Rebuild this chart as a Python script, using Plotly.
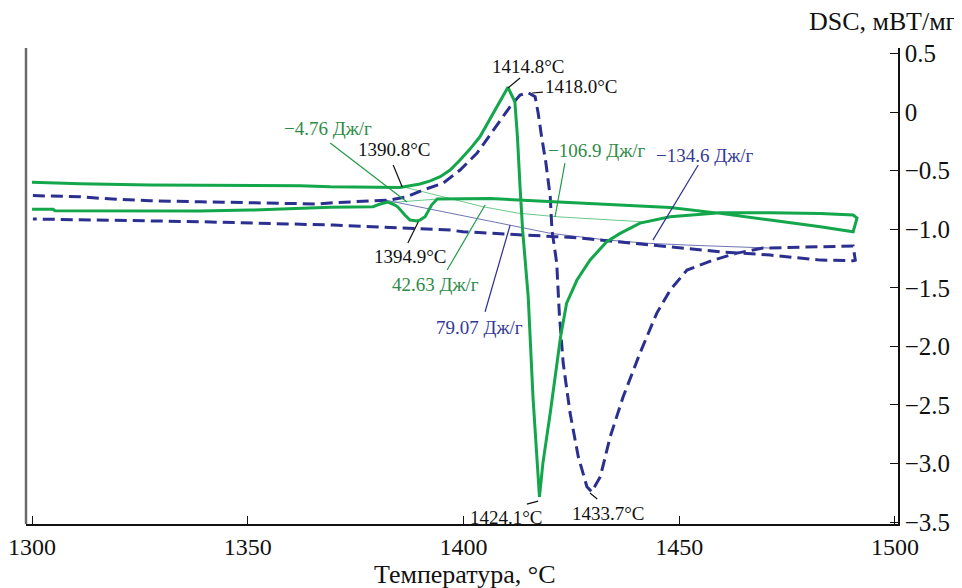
import plotly.graph_objects as go

# ---------------- data (temperature °C, DSC mW/mg) ----------------
green_T = [1300.0, 1311.1, 1327.3, 1338.9, 1362.1, 1369.1, 1385.3, 1389.9, 1392.3, 1394.6,
           1396.9, 1399.2, 1401.5, 1403.8, 1406.9, 1409.2, 1410.3, 1411.9, 1412.5, 1413.1,
           1413.7, 1415.0, 1416.1, 1417.6, 1418.4, 1420.1, 1421.6, 1422.5, 1423.9, 1426.3,
           1429.3, 1433.2, 1436.3, 1440.9, 1447.9, 1459.5, 1471.1, 1482.7, 1490.3, 1491.2,
           1490.3, 1482.7, 1471.1, 1459.5, 1447.9, 1440.9, 1427.0, 1417.7, 1406.2, 1393.9,
           1392.6, 1391.1, 1389.9, 1389.2, 1387.6, 1386.4, 1385.7, 1384.8, 1384.1, 1382.5,
           1380.7, 1379.0, 1369.1, 1350.5, 1338.9, 1305.3, 1304.9, 1300.0]
green_DSC = [-0.600, -0.612, -0.623, -0.625, -0.630, -0.638, -0.643, -0.614, -0.588, -0.552,
             -0.495, -0.409, -0.316, -0.211, -0.008, 0.146, 0.211, 0.088, -0.211, -0.638,
             -1.007, -1.579, -2.433, -3.285, -2.997, -2.570, -2.143, -1.918, -1.631, -1.434,
             -1.264, -1.107, -1.036, -0.948, -0.894, -0.860, -0.860, -0.865, -0.879, -0.905,
             -1.022, -0.979, -0.922, -0.865, -0.815, -0.802, -0.777, -0.757, -0.738, -0.743,
             -0.794, -0.894, -0.922, -0.930, -0.922, -0.879, -0.851, -0.811, -0.794, -0.768,
             -0.785, -0.808, -0.813, -0.837, -0.845, -0.842, -0.830, -0.830]

blue_T = [1300.2, 1311.1, 1315.8, 1319.7, 1327.3, 1338.9, 1362.1, 1366.1, 1369.8, 1377.6,
          1383.0, 1386.9, 1390.6, 1395.3, 1399.2, 1403.1, 1406.9, 1410.8, 1413.1, 1415.0,
          1416.6, 1417.3, 1418.1, 1419.1, 1420.1, 1420.5, 1421.6, 1422.2, 1423.1, 1424.7,
          1426.6, 1428.6, 1429.7, 1431.7, 1434.0, 1437.0, 1440.9, 1444.8, 1447.9, 1451.8,
          1457.9, 1463.4, 1469.4, 1481.0, 1490.3, 1490.8,
          1490.3, 1482.7, 1471.1, 1459.5, 1447.9, 1438.6, 1427.0, 1423.1, 1415.4, 1399.9,
          1396.9, 1384.6, 1369.8, 1338.9, 1315.8, 1300.2]
blue_DSC = [-0.713, -0.723, -0.737, -0.745, -0.757, -0.766, -0.779, -0.785, -0.774, -0.757,
            -0.751, -0.723, -0.666, -0.606, -0.495, -0.352, -0.153, 0.046, 0.146, 0.165,
            0.131, -0.008, -0.211, -0.435, -0.723, -1.007, -1.289, -1.716, -2.143, -2.570,
            -2.943, -3.199, -3.242, -3.114, -2.772, -2.431, -2.058, -1.716, -1.520, -1.349,
            -1.264, -1.204, -1.161, -1.148, -1.144, -1.264,
            -1.269, -1.264, -1.221, -1.193, -1.150, -1.121, -1.076, -1.067, -1.050, -1.022,
            -1.007, -0.990, -0.965, -0.936, -0.922, -0.913]

# integration baselines
green_base_T = [1385.3, 1394.6, 1404.5, 1412.4, 1421.7, 1427.7, 1436.3, 1442.6]
green_base_DSC = [-0.632, -0.717, -0.808, -0.862, -0.894, -0.907, -0.922, -0.939]
green_dip_base_T = [1381.4, 1393.9]
green_dip_base_DSC = [-0.777, -0.743]
blue_base_T = [1381.8, 1406.2, 1410.8, 1420.1, 1433.3, 1443.2, 1454.8, 1471.1]
blue_base_DSC = [-0.751, -0.930, -0.965, -1.035, -1.093, -1.121, -1.140, -1.161]

# labels: text, label position (T, DSC), leader start, leader end, colour key
label_text = ["−4.76 Дж/г", "1390.8°C", "1394.9°C", "42.63 Дж/г", "79.07 Дж/г",
              "1414.8°C", "1418.0°C", "−106.9 Дж/г", "−134.6 Дж/г", "1424.1°C", "1433.7°C"]
label_T = [1368.6, 1383.9, 1387.6, 1393.4, 1403.8, 1415.0, 1427.3, 1431.0, 1456.0, 1409.9, 1433.5]
label_DSC = [-0.136, -0.316, -1.229, -1.468, -1.836, 0.393, 0.2225, -0.324, -0.367, -3.458, -3.424]
lead_T0 = [1369.1, 1383.7, 1387.1, 1396.2, 1405.0, 1413.1, 1418.4, 1423.5, 1454.4, 1414.7, 1429.3]
lead_D0 = [-0.264, -0.452, -1.118, -1.349, -1.705, 0.291, 0.171, -0.435, -0.452, -3.347, -3.253]
lead_T1 = [1386.9, 1385.8, 1389.5, 1405.0, 1410.8, 1410.3, 1415.9, 1421.2, 1443.9, 1417.3, 1431.0]
lead_D1 = [-0.768, -0.640, -0.939, -0.794, -0.965, 0.205, 0.163, -0.896, -1.093, -3.322, -3.304]
label_kind = ["g", "k", "k", "g", "b", "k", "k", "g", "b", "k", "k"]

x_ticks = [1300, 1350, 1400, 1450, 1500]
y_ticks = [0.5, 0, -0.5, -1.0, -1.5, -2.0, -2.5, -3.0, -3.5]
y_ticktext = ["0.5", "0", "−0.5", "−1.0", "−1.5", "−2.0", "−2.5", "−3.0", "−3.5"]

# ---------------- styling ----------------
GREEN = "#13a64b"
NAVY = "#2b2f8f"
text_col = {"g": "#2e8b47", "k": "#111111", "b": "#333a96"}
lead_col = {"g": "#1f9b48", "k": "#111111", "b": "#2b2f8f"}
FONT = "Liberation Serif"

fig = go.Figure()
fig.add_trace(go.Scatter(x=green_base_T, y=green_base_DSC, mode="lines",
                         line=dict(color="#6cc98a", width=1), hoverinfo="skip"))
fig.add_trace(go.Scatter(x=green_dip_base_T, y=green_dip_base_DSC, mode="lines",
                         line=dict(color="#6cc98a", width=1), hoverinfo="skip"))
fig.add_trace(go.Scatter(x=blue_base_T, y=blue_base_DSC, mode="lines",
                         line=dict(color="#7074b4", width=1), hoverinfo="skip"))
fig.add_trace(go.Scatter(x=blue_T, y=blue_DSC, mode="lines",
                         line=dict(color=NAVY, width=3, dash="12px,6px")))
fig.add_trace(go.Scatter(x=green_T, y=green_DSC, mode="lines",
                         line=dict(color=GREEN, width=3)))

for i, t in enumerate(label_text):
    k = label_kind[i]
    fig.add_shape(type="line", xref="x", yref="y",
                  x0=lead_T0[i], y0=lead_D0[i], x1=lead_T1[i], y1=lead_D1[i],
                  line=dict(color=lead_col[k], width=1.2))
    fig.add_annotation(x=label_T[i], y=label_DSC[i], xref="x", yref="y", text=t,
                       showarrow=False, xanchor="center", yanchor="middle",
                       font=dict(family=FONT, size=19, color=text_col[k]))

# left grey frame line
fig.add_shape(type="line", xref="paper", yref="paper", x0=0, x1=0, y0=0, y1=1,
              line=dict(color="#6b6b6b", width=2.5))

fig.add_annotation(xref="paper", yref="paper", x=1.069, y=1.055, xanchor="right",
                   yanchor="middle", showarrow=False, text="DSC, мВТ/мг",
                   font=dict(family=FONT, size=26, color="#111111"))
fig.add_annotation(xref="paper", yref="paper", x=0.503, y=-0.107, xanchor="center",
                   yanchor="middle", showarrow=False, text="Температура, °C",
                   font=dict(family=FONT, size=26, color="#111111"))

# page body has an 8px margin, so the figure is sized/offset to compensate
fig.update_layout(
    width=954, height=580,
    margin=dict(l=18, r=64, t=40, b=64, autoexpand=False),
    paper_bgcolor="white", plot_bgcolor="white",
    showlegend=False,
    font=dict(family=FONT, size=24, color="#111111"),
    xaxis=dict(range=[1298.6, 1500.7], tickvals=x_ticks, ticks="inside", ticklen=8,
               tickcolor="#111111", showline=True, linecolor="#111111", linewidth=1.5,
               showgrid=False, zeroline=False, automargin=False,
               tickfont=dict(family=FONT, size=24)),
    yaxis=dict(range=[-3.517, 0.547], side="right", tickvals=y_ticks, ticktext=y_ticktext,
               ticks="inside", ticklen=8, tickcolor="#111111", showline=True,
               linecolor="#111111", linewidth=1.5, showgrid=False, zeroline=False,
               automargin=False, tickfont=dict(family=FONT, size=25)),
)

fig.write_html("out.html")
